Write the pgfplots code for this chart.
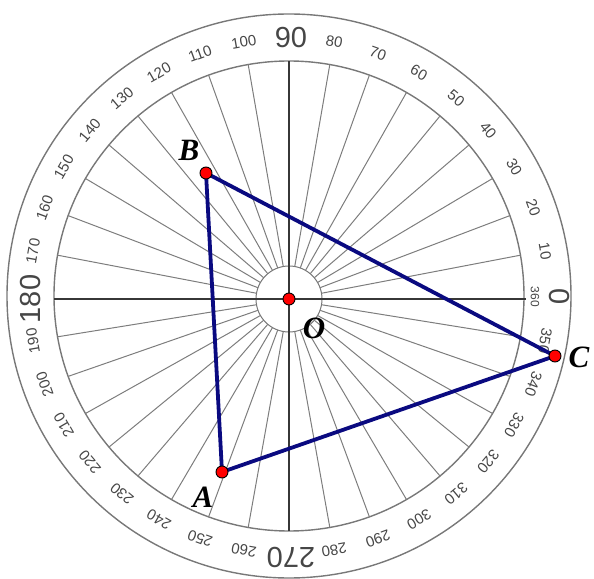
\documentclass[border=0pt]{standalone}
\usepackage{pgfplots}
\pgfplotsset{compat=1.18}
\usepackage{fontspec}
\setmainfont{Liberation Sans}
\newfontfamily\tnr{Liberation Serif}
\definecolor{navy}{RGB}{10,10,128}
\definecolor{ring}{RGB}{120,120,120}
\definecolor{spoke}{RGB}{125,125,125}
\definecolor{axisc}{RGB}{55,55,55}
\definecolor{numc}{RGB}{70,70,70}
\begin{document}
\begin{tikzpicture}
\begin{axis}[x=1pt,y=1pt,xmin=-289,xmax=305,ymin=-279,ymax=299,
  hide axis, clip=false, scale only axis]
\addplot[draw=none] coordinates {(-289,-279) (305,299)};
% circles
\draw[ring, line width=1.4pt] (axis cs:0,3) circle[radius=282];
\draw[ring, line width=1.4pt] (axis cs:0,3) circle[radius=235];
\draw[ring, line width=1pt] (axis cs:0,0) circle[radius=33];
% spokes
\pgfplotsinvokeforeach{10,20,...,80,100,110,...,170,190,200,...,260,280,290,...,350}{
  \draw[spoke, line width=1pt] (axis cs:{33*cos(#1)},{33*sin(#1)}) -- (axis cs:{235*cos(#1)},{3+235*sin(#1)});
  \node[numc, rotate={#1-90}, font=\fontsize{15}{15}\selectfont, inner sep=0pt] at (axis cs:{260*cos(#1)},{3+258*sin(#1)}) {#1};
}
% main axes
\addplot[axisc, line width=2.3pt] coordinates {(-235,0) (237,0)};
\addplot[axisc, line width=2.3pt] coordinates {(0,-232) (0,238)};
% big labels
\node[numc, rotate=0, font=\fontsize{29}{29}\selectfont, inner sep=0pt] at (axis cs:2,261) {90};
\node[numc, rotate=90, font=\fontsize{29}{29}\selectfont, inner sep=0pt] at (axis cs:-258,0) {180};
\node[numc, rotate=180, font=\fontsize{29}{29}\selectfont, inner sep=0pt] at (axis cs:2,-258) {270};
\node[numc, rotate=-90, font=\fontsize{29}{29}\selectfont, inner sep=0pt] at (axis cs:270,2) {0};
\node[numc, rotate=-90, font=\fontsize{12}{12}\selectfont, inner sep=0pt] at (axis cs:246,2) {360};
% triangle
\addplot[navy, line width=3.8pt, line join=round] coordinates {(-67,-173) (-83,126) (266,-57) (-67,-173)};
\addplot[only marks, mark=*, mark size=6pt, mark options={draw=black, fill=red, line width=0.9pt}] coordinates {(-67,-173) (-83,126) (266,-57) (0,0)};
% point labels
\node[font=\tnr\bfseries\itshape\fontsize{31}{31}\selectfont, inner sep=0pt] at (axis cs:-100,149) {B};
\node[font=\tnr\bfseries\itshape\fontsize{31}{31}\selectfont, inner sep=0pt] at (axis cs:-86,-198) {A};
\node[font=\tnr\bfseries\itshape\fontsize{31}{31}\selectfont, inner sep=0pt] at (axis cs:290,-58) {C};
\node[font=\tnr\bfseries\itshape\fontsize{31}{31}\selectfont, inner sep=0pt] at (axis cs:25,-29) {O};
\end{axis}
\end{tikzpicture}
\end{document}
